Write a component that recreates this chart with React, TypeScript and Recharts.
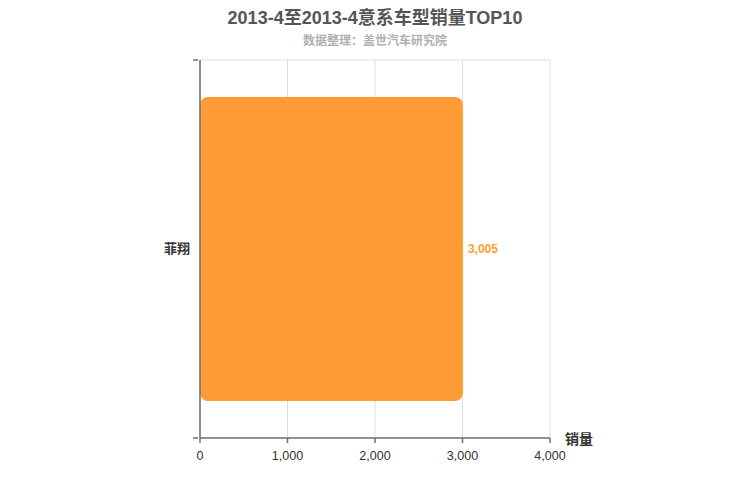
import { Bar, BarChart, CartesianGrid, LabelList, XAxis, YAxis, Label } from 'recharts';

const categories = ['菲翔'];
const sales = [3005];
const xTicks = [0, 1000, 2000, 3000, 4000];

const TITLE = '2013-4至2013-4意系车型销量TOP10';
const SUBTITLE = '数据整理：盖世汽车研究院';
const AXIS_NAME = '销量';

const BAR_COLOR = '#ff9c35';
const AXIS_COLOR = '#6e6e6e';
const GRID_COLOR = '#dddddd';
const FONT = '"Liberation Sans", Arial, "Noto Sans CJK SC", sans-serif';

const data = categories.map((name, i) => ({ name, value: sales[i] }));

const fmt = (v: number) => v.toLocaleString('en-US');

const CategoryTick = (props: any) => {
  const { x, y, payload } = props;
  const half = payload?.offset || 189;
  return (
    <g>
      <line x1={x + 6} x2={x + 1} y1={y - half} y2={y - half} stroke={AXIS_COLOR} strokeWidth={1.5} />
      <line x1={x + 6} x2={x + 1} y1={y + half} y2={y + half} stroke={AXIS_COLOR} strokeWidth={1.5} />
      <text x={x - 2} y={y} dy={4} textAnchor="end" fill="#333" fontSize={13} fontWeight="bold" fontFamily={FONT}>
        {payload.value}
      </text>
    </g>
  );
};

const ValueTick = (props: any) => {
  const { x, y, payload } = props;
  return (
    <text x={x} y={y} dy={15} textAnchor="middle" fill="#333" fontSize={12.5} fontFamily={FONT}>
      {fmt(payload.value)}
    </text>
  );
};

export default function App() {
  return (
    <div style={{ position: 'absolute', left: 0, top: 0, width: 750, height: 500, background: '#fff', fontFamily: FONT }}>
      <div style={{ position: 'absolute', top: 3, width: 750, textAlign: 'center', fontSize: 18, fontWeight: 'bold', color: '#555' }}>
        {TITLE}
      </div>
      <div style={{ position: 'absolute', top: 31, width: 750, textAlign: 'center', fontSize: 12, fontWeight: 'bold', color: '#b0b0b0' }}>
        {SUBTITLE}
      </div>
      <BarChart
        width={750}
        height={500}
        data={data}
        layout="vertical"
        margin={{ top: 60, right: 200, bottom: 0, left: 0 }}
        barSize={304}
      >
        <CartesianGrid
          stroke={GRID_COLOR}
          horizontalCoordinatesGenerator={({ offset }: any) => [offset.top]}
        />
        <XAxis
          type="number"
          domain={[0, 4000]}
          ticks={xTicks}
          height={62}
          axisLine={{ stroke: AXIS_COLOR, strokeWidth: 1.5 }}
          tickLine={{ stroke: AXIS_COLOR, strokeWidth: 1.5 }}
          tickSize={5}
          tick={<ValueTick />}
          interval={0}
        >
          <Label
            content={({ viewBox }: any) => (
              <text x={viewBox.x + viewBox.width + 15} y={viewBox.y + 6} fill="#333" fontSize={14} fontWeight="bold" fontFamily={FONT}>
                {AXIS_NAME}
              </text>
            )}
          />
        </XAxis>
        <YAxis
          type="category"
          dataKey="name"
          width={200}
          axisLine={{ stroke: AXIS_COLOR, strokeWidth: 1.5 }}
          tickLine={false}
          tick={<CategoryTick />}
        />
        <Bar dataKey="value" fill={BAR_COLOR} radius={8} isAnimationActive={false}>
          <LabelList dataKey="value" position="right" offset={5} formatter={(v: any) => fmt(Number(v))} fill={BAR_COLOR} fontSize={12} fontWeight="bold" fontFamily={FONT} />
        </Bar>
      </BarChart>
    </div>
  );
}
